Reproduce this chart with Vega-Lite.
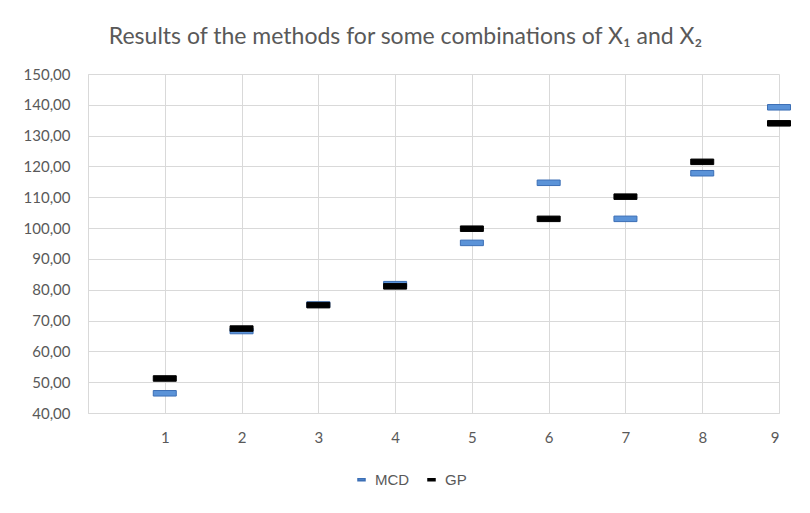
{
  "$schema": "https://vega.github.io/schema/vega-lite/v6.json",
  "autosize": {"type": "none"},
  "padding": {"left": 88, "top": 74, "right": 31, "bottom": 100},
  "width": 691,
  "height": 339,
  "background": "white",
  "title": {
    "text": "Results of the methods for some combinations of X₁ and X₂",
    "font": "Lato",
    "fontSize": 23,
    "fontWeight": "normal",
    "color": "#595959",
    "anchor": "middle",
    "dx": -28,
    "offset": 18
  },
  "data": {
    "values": [
      {"x": 1, "method": "MCD", "value": 46.4},
      {"x": 2, "method": "MCD", "value": 66.6},
      {"x": 3, "method": "MCD", "value": 75.2},
      {"x": 4, "method": "MCD", "value": 81.8},
      {"x": 5, "method": "MCD", "value": 95.2},
      {"x": 6, "method": "MCD", "value": 114.7},
      {"x": 7, "method": "MCD", "value": 103.0},
      {"x": 8, "method": "MCD", "value": 117.8},
      {"x": 9, "method": "MCD", "value": 139.2},
      {"x": 1, "method": "GP", "value": 51.2},
      {"x": 2, "method": "GP", "value": 67.4},
      {"x": 3, "method": "GP", "value": 75.0},
      {"x": 4, "method": "GP", "value": 81.1},
      {"x": 5, "method": "GP", "value": 99.8},
      {"x": 6, "method": "GP", "value": 103.0},
      {"x": 7, "method": "GP", "value": 110.2},
      {"x": 8, "method": "GP", "value": 121.5},
      {"x": 9, "method": "GP", "value": 134.0}
    ]
  },
  "mark": {
    "type": "point",
    "shape": "M-1,-0.24H1V0.24H-1Z",
    "filled": true,
    "size": 529,
    "opacity": 1,
    "strokeWidth": 1,
    "clip": false
  },
  "encoding": {
    "x": {
      "field": "x",
      "type": "quantitative",
      "scale": {"domain": [0, 9], "nice": false, "zero": false},
      "axis": {
        "title": null,
        "values": [0, 1, 2, 3, 4, 5, 6, 7, 8, 9],
        "labelExpr": "datum.value == 0 ? '' : datum.label",
        "grid": true,
        "gridColor": "#d9d9d9",
        "ticks": false,
        "domainColor": "#d9d9d9",
        "labelFont": "Lato",
        "labelFontSize": 15,
        "labelColor": "#595959",
        "labelPadding": 17
      }
    },
    "y": {
      "field": "value",
      "type": "quantitative",
      "scale": {"domain": [40, 150], "nice": false, "zero": false},
      "axis": {
        "title": null,
        "values": [40, 50, 60, 70, 80, 90, 100, 110, 120, 130, 140, 150],
        "labelExpr": "replace(format(datum.value, '.2f'), '.', ',')",
        "grid": true,
        "gridColor": "#d9d9d9",
        "ticks": false,
        "domainColor": "#d9d9d9",
        "labelFont": "Lato",
        "labelFontSize": 15,
        "labelColor": "#595959",
        "labelPadding": 18
      }
    },
    "fill": {
      "field": "method",
      "type": "nominal",
      "scale": {"domain": ["MCD", "GP"], "range": ["#5b93d8", "#000000"]},
      "legend": {
        "title": null,
        "orient": "none",
        "direction": "horizontal",
        "legendX": 266,
        "legendY": 398,
        "symbolType": "M-1,-0.3H1V0.3H-1Z",
        "symbolSize": 49,
        "labelFont": "Liberation Sans",
        "labelFontSize": 15,
        "labelColor": "#595959",
        "columnPadding": 14,
        "labelOffset": 6
      }
    },
    "stroke": {
      "field": "method",
      "type": "nominal",
      "scale": {"domain": ["MCD", "GP"], "range": ["#3c6fb5", "#000000"]},
      "legend": null
    }
  },
  "config": {
    "view": {"stroke": null}
  }
}
